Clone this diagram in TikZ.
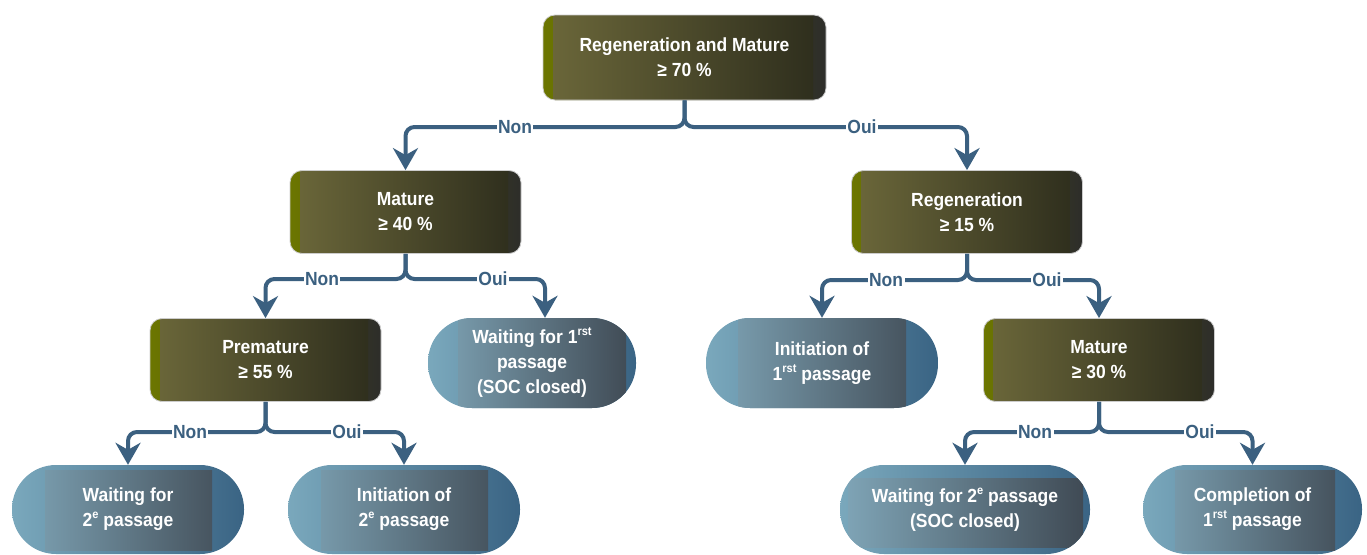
\documentclass[tikz,border=0pt]{standalone}
\usepackage{fontspec}
\setmainfont{Liberation Sans}[FakeStretch=0.92]
\usetikzlibrary{arrows.meta}
\definecolor{olL}{RGB}{108,118,0}
\definecolor{olR}{RGB}{45,45,42}
\definecolor{oiL}{RGB}{108,104,58}
\definecolor{oiR}{RGB}{44,44,28}
\definecolor{plL}{RGB}{122,168,188}
\definecolor{plR}{RGB}{58,100,132}
\definecolor{piL}{RGB}{128,166,184}
\definecolor{piR}{RGB}{62,72,82}
\definecolor{connc}{RGB}{59,96,128}
\newcommand\supx[1]{\raisebox{0.42em}{\fontsize{12}{12}\selectfont #1}}
\begin{document}
\begin{tikzpicture}[x=1pt,y=-1pt,
  txt/.style={align=center, text=white, font=\fontsize{19}{25}\selectfont\bfseries, inner sep=0pt},
  dbox/.style={txt, rounded corners=12pt, minimum width=231pt, minimum height=83pt,
    left color=olL, right color=olR, draw=black!20, line width=0.8pt,
    path picture={\shade[sharp corners,left color=oiL,right color=oiR]
      ([xshift=10pt]path picture bounding box.south west) rectangle
      ([xshift=-13pt]path picture bounding box.north east);}},
  pill/.style n args={4}{txt, rounded corners=44pt, minimum height=89pt,
    left color=plL, right color=plR,
    path picture={\shade[sharp corners,left color=piL,right color=piR]
      ([xshift=#1,yshift=#4]path picture bounding box.south west) rectangle
      ([xshift=-#2,yshift=-#3]path picture bounding box.north east);}},
  conn/.style={draw=connc, line width=4pt, rounded corners=9pt,
    -{Stealth[length=22pt,width=25pt,inset=7pt]}},
  lbl/.style={fill=white, text=connc, inner xsep=1.5pt, inner ysep=1pt,
    font=\fontsize{19}{22}\selectfont\bfseries}
]
\path[use as bounding box] (0,0) rectangle (1367,554);

% decision boxes
\node[dbox, minimum width=283pt, minimum height=85pt] (top) at (684.5,57.5) {Regeneration and Mature\\≥ 70 \%};
\node[dbox] (m40) at (405.5,212) {Mature\\≥ 40 \%};
\node[dbox] (r15) at (967,212) {Regeneration\\≥ 15 \%};
\node[dbox] (p55) at (265.5,360) {Premature\\≥ 55 \%};
\node[dbox] (m30) at (1099,360) {Mature\\≥ 30 \%};

% terminal pills
\node[pill={30pt}{10pt}{0pt}{0pt}, minimum width=208pt, minimum height=90pt] (w1) at (532,363)
  {Waiting for 1\supx{rst}\\passage\\(SOC closed)};
\node[pill={32pt}{32pt}{0pt}{0pt}, minimum width=232pt, minimum height=90pt] (i1) at (822,363)
  {Initiation of\\1\supx{rst} passage};
\node[pill={33pt}{32pt}{5pt}{4pt}, minimum width=232pt] (w2) at (128,509.5)
  {Waiting for\\2\supx{e} passage};
\node[pill={33pt}{32pt}{5pt}{4pt}, minimum width=232pt] (i2) at (404,509.5)
  {Initiation of\\2\supx{e} passage};
\node[pill={8pt}{7pt}{13pt}{7pt}, minimum width=250pt] (w3) at (965,509.5)
  {Waiting for 2\supx{e} passage\\(SOC closed)};
\node[pill={32pt}{27pt}{5pt}{4pt}, minimum width=219pt] (c1) at (1252.5,509.5)
  {Completion of\\1\supx{rst} passage};

% junctions
\coordinate (j1) at (684.5,127);
\coordinate (j2) at (405.5,279);
\coordinate (j3) at (967,280);
\coordinate (j4) at (265.5,432);
\coordinate (j5) at (1099,432);

% connectors
\draw[conn] (top.south) -- (j1) -| (m40.north);
\draw[conn] (top.south) -- (j1) -| (r15.north);
\draw[conn] (m40.south) -- (j2) -| (p55.north);
\draw[conn] (m40.south) -- (j2) -| ([xshift=13pt]w1.north);
\draw[conn] (r15.south) -- (j3) -| (i1.north);
\draw[conn] (r15.south) -- (j3) -| (m30.north);
\draw[conn] (p55.south) -- (j4) -| (w2.north);
\draw[conn] (p55.south) -- (j4) -| (i2.north);
\draw[conn] (m30.south) -- (j5) -| (w3.north);
\draw[conn] (m30.south) -- (j5) -| (c1.north);

% labels
\node[lbl] (l1) at (515,127) {Non};
\node[lbl] (l2) at (862,127) {Oui};
\node[lbl] (l3) at (322,279) {Non};
\node[lbl] (l4) at (493,279) {Oui};
\node[lbl] (l5) at (886,280) {Non};
\node[lbl] (l6) at (1047,280) {Oui};
\node[lbl] (l7) at (190,432) {Non};
\node[lbl] (l8) at (347,432) {Oui};
\node[lbl] (l9) at (1035,432) {Non};
\node[lbl] (l10) at (1200,432) {Oui};
\end{tikzpicture}
\end{document}
